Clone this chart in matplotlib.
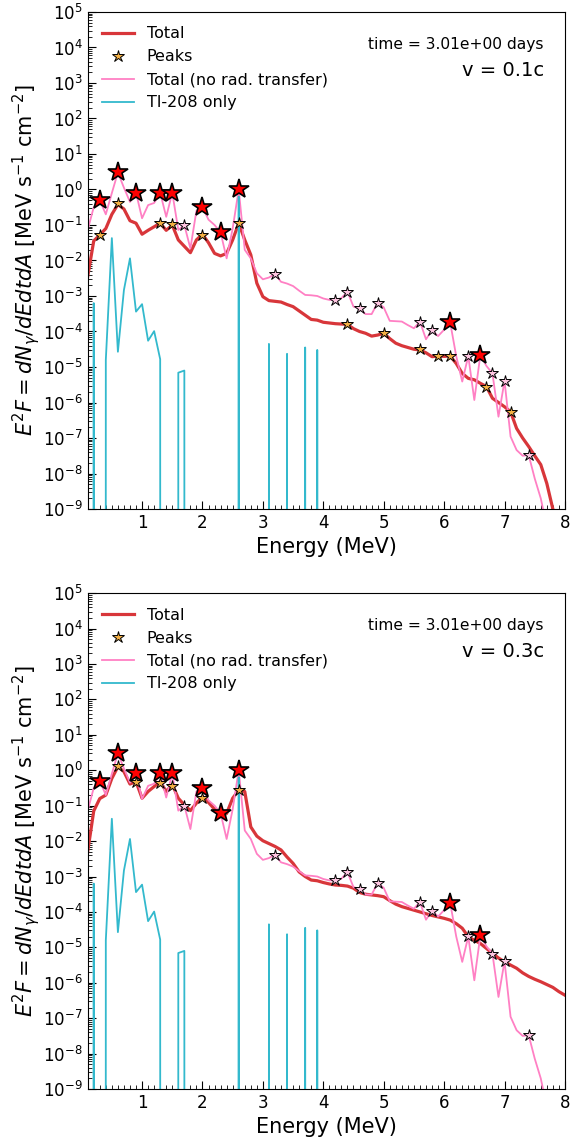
import numpy as np
import matplotlib
matplotlib.use('Agg')
import matplotlib.pyplot as plt
from matplotlib.ticker import LogLocator, NullFormatter, MultipleLocator

# energy grid (MeV)
energy = np.round(np.arange(0.1, 8.01, 0.1), 1)

# log10 of E^2F
total_v01 = [-2.45, -1.45, -1.28, -1.1, -0.7, -0.42, -0.55, -0.88, -0.95, -1.26,
             -1.15, -1.05, -0.95, -1.15, -1.0, -1.42, -1.6, -1.78, -1.42, -1.26,
             -1.5, -1.8, -1.87, -1.8, -1.42, -0.95, -1.42, -1.84, -2.64, -3.02,
             -3.13, -3.15, -3.17, -3.24, -3.3, -3.42, -3.54, -3.66, -3.68, -3.74,
             -3.76, -3.78, -3.79, -3.8, -3.92, -4.0, -4.05, -4.13, -4.1, -4.05,
             -4.2, -4.33, -4.4, -4.45, -4.5, -4.52, -4.6, -4.71, -4.69, -4.7,
             -4.69, -4.9, -5.18, -5.32, -5.36, -5.46, -5.55, -5.88, -6.0, -6.12,
             -6.26, -6.73, -7.0, -7.24, -7.5, -7.75, -8.28, -9.0, -10.0, -11.0]

total_v03 = [-2.3, -1.15, -0.8, -0.7, -0.23, 0.1, -0.04, -0.39, -0.32, -0.79,
             -0.6, -0.46, -0.32, -0.6, -0.4, -0.79, -0.98, -1.14, -0.93, -0.75,
             -0.91, -1.1, -1.31, -1.22, -0.79, -0.56, -0.6, -1.6, -1.86, -1.99,
             -2.07, -2.15, -2.25, -2.45, -2.63, -2.87, -3.0, -3.1, -3.12, -3.17,
             -3.21, -3.24, -3.25, -3.27, -3.33, -3.45, -3.5, -3.52, -3.54, -3.57,
             -3.68, -3.78, -3.85, -3.9, -3.95, -4.0, -4.05, -4.1, -4.14, -4.18,
             -4.23, -4.33, -4.46, -4.7, -4.8, -4.89, -5.03, -5.17, -5.3, -5.41,
             -5.5, -5.59, -5.72, -5.82, -5.9, -5.97, -6.05, -6.13, -6.25, -6.35]

total_norad = [-1.14, -0.5, -0.3, -0.7, -0.1, 0.48, 0.05, -0.35, -0.09, -0.81,
               -0.44, -0.38, -0.09, -0.77, -0.09, -1.14, -1.0, -1.66, -0.6, -0.5,
               -0.85, -1.0, -1.21, -1.94, -1.1, 0.0, -1.7, -1.94, -2.36, -2.53,
               -2.48, -2.38, -2.6, -2.65, -2.72, -2.85, -2.97, -2.98, -3.0, -3.07,
               -3.11, -3.11, -3.06, -2.88, -3.3, -3.35, -3.51, -3.51, -3.19, -3.32,
               -3.7, -3.71, -3.72, -3.82, -3.91, -3.72, -4.22, -3.96, -4.13, -3.95,
               -3.74, -4.69, -5.41, -4.69, -5.93, -4.66, -4.97, -5.18, -6.4, -5.39,
               -6.96, -7.34, -7.5, -7.48, -8.14, -8.7, -9.5, -10.5, -11.5, -12.5]

# Tl-208 line spectrum (None = no flux in that bin)
tl208 = [None, -3.2, None, -4.8, -1.37, -4.57, -2.83, -1.94, -3.44, -3.23,
         -4.26, -3.99, -4.78, None, None, -5.16, -5.1, None, None, None,
         None, None, None, None, None, -0.2, None, None, None, None,
         -4.35, None, None, -4.63, None, None, -4.45, None, -4.52, None]

# peaks of the no-rad-transfer spectrum (big red stars / small pink stars)
big_peak_e = [0.3, 0.6, 0.9, 1.3, 1.5, 2.0, 2.3, 2.6, 6.1, 6.6]
big_peak_y = [-0.3, 0.48, -0.09, -0.09, -0.09, -0.5, -1.21, 0.0, -3.74, -4.66]
small_peak_e = [1.7, 3.2, 4.2, 4.4, 4.6, 4.9, 5.6, 5.8, 6.4, 6.8, 7.0, 7.4]
small_peak_y = [-1.0, -2.38, -3.11, -2.88, -3.35, -3.19, -3.72, -3.96, -4.69, -5.18, -5.39, -7.48]

# peaks of the total spectrum
peak_e_v01 = [0.3, 0.6, 1.3, 1.5, 2.0, 2.6, 4.4, 5.0, 5.6, 5.9, 6.1, 6.7, 7.1]
peak_y_v01 = [-1.27, -0.38, -0.95, -0.98, -1.27, -0.95, -3.78, -4.05, -4.49, -4.69, -4.69, -5.55, -6.26]
peak_e_v03 = [0.6, 0.9, 1.3, 1.5, 2.0, 2.6]
peak_y_v03 = [0.12, -0.34, -0.35, -0.44, -0.78, -0.56]

velocities = ['0.1c', '0.3c']
totals = [total_v01, total_v03]
peaks_e = [peak_e_v01, peak_e_v03]
peaks_y = [peak_y_v01, peak_y_v03]


def flux(logs):
    return np.array([0.0 if v is None else 10.0 ** v for v in logs])


fig = plt.figure(figsize=(5.75, 11.4), dpi=100)
boxes = [[0.1525, 0.5535, 0.830, 0.436], [0.1525, 0.0447, 0.830, 0.435]]

for i in range(2):
    ax = fig.add_axes(boxes[i])
    ax.plot(energy, flux(totals[i]), color='#d8363a', lw=2.3, label='Total')
    ax.plot(peaks_e[i], flux(peaks_y[i]), ls='none', marker='*', ms=9,
            mfc='#f4b044', mec='black', mew=0.7, zorder=6, label='Peaks')
    ax.plot(energy, flux(total_norad), color='#ff80c4', lw=1.3,
            label='Total (no rad. transfer)')
    ax.plot(energy[:len(tl208)], flux(tl208), color='#33b9cd', lw=1.3,
            label='Tl-208 only')
    ax.plot(small_peak_e, flux(small_peak_y), ls='none', marker='*', ms=9,
            mfc='#ffc6e2', mec='black', mew=0.7, zorder=4)
    ax.plot(big_peak_e, flux(big_peak_y), ls='none', marker='*', ms=15,
            mfc='red', mec='black', mew=1.2, zorder=5)

    ax.set_yscale('log')
    ax.set_xlim(0.1, 8)
    ax.set_ylim(1e-9, 1e5)
    ax.yaxis.set_major_locator(LogLocator(base=10, numticks=30))
    ax.yaxis.set_minor_locator(LogLocator(base=10, subs=np.arange(2, 10), numticks=300))
    ax.yaxis.set_minor_formatter(NullFormatter())
    ax.xaxis.set_major_locator(MultipleLocator(1))
    ax.xaxis.set_minor_locator(MultipleLocator(0.1))
    ax.tick_params(which='both', direction='in', labelsize=12)
    ax.tick_params(which='major', length=6)
    ax.tick_params(which='minor', length=3)

    ax.set_xlabel('Energy (MeV)', fontsize=15, labelpad=4)
    ax.set_ylabel(r'$E^2F = dN_\gamma/dEdtdA$ [MeV s$^{-1}$ cm$^{-2}$]',
                  fontsize=15, labelpad=1)
    ax.legend(loc='upper left', frameon=False, fontsize=11.5, labelspacing=0.5,
              borderaxespad=0.5)

    ax.text(0.956, 0.934, 'time = 3.01e+00 days', transform=ax.transAxes,
            ha='right', va='center', fontsize=11.2)
    ax.text(0.956, 0.883, 'v = ' + velocities[i], transform=ax.transAxes,
            ha='right', va='center', fontsize=14)

fig.savefig('out.png', dpi=100)
